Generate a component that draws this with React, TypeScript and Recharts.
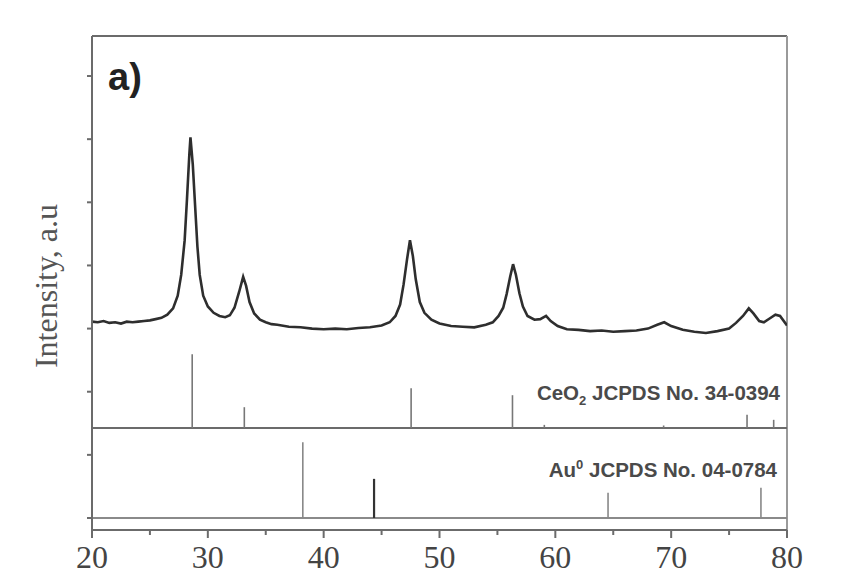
import React from 'react';
import { ComposedChart, Line, XAxis, YAxis, ReferenceLine } from 'recharts';

// XRD pattern (2θ in degrees, intensity in a.u. tick units)
const xrdAngle = [
  20.0, 20.5, 21.0, 21.5, 22.0, 22.5, 23.0, 23.5, 24.0, 24.5, 25.0, 25.5, 26.0, 26.5, 27.0, 27.4, 27.7, 28.0, 28.2, 28.4,
  28.5, 28.7, 28.9, 29.1, 29.3, 29.6, 30.0, 30.5, 31.0, 31.5, 31.9, 32.3, 32.7, 33.05, 33.3, 33.6, 34.0, 34.5, 35.0, 35.5,
  36.0, 37.0, 38.0, 39.0, 40.0, 41.0, 42.0, 43.0, 44.0, 45.0, 45.7, 46.2, 46.6, 46.9, 47.2, 47.45, 47.7, 47.95, 48.3, 48.7,
  49.3, 50.0, 51.0, 52.0, 53.0, 54.0, 54.6, 55.1, 55.5, 55.8, 56.1, 56.35, 56.6, 56.9, 57.2, 57.6, 58.2, 58.7, 59.2, 59.6,
  60.2, 61.0, 62.0, 63.0, 64.0, 65.0, 66.0, 67.0, 68.0, 68.8, 69.4, 70.0, 71.0, 72.0, 73.0, 74.0, 75.0, 75.6, 76.2, 76.7,
  77.1, 77.6, 78.0, 78.5, 79.0, 79.4, 80.0,
];
const xrdIntensity = [
  3.11, 3.10, 3.12, 3.09, 3.10, 3.08, 3.11, 3.10, 3.11, 3.12, 3.13, 3.15, 3.17, 3.22, 3.32, 3.52, 3.85, 4.40, 5.05, 5.75,
  6.03, 5.60, 4.95, 4.30, 3.85, 3.52, 3.35, 3.25, 3.20, 3.18, 3.21, 3.33, 3.58, 3.82, 3.68, 3.42, 3.24, 3.14, 3.10, 3.07,
  3.06, 3.03, 3.02, 3.00, 2.99, 3.00, 2.99, 3.01, 3.02, 3.05, 3.10, 3.20, 3.38, 3.70, 4.10, 4.40, 4.15, 3.78, 3.42, 3.25,
  3.14, 3.08, 3.04, 3.03, 3.02, 3.06, 3.10, 3.20, 3.33, 3.55, 3.82, 4.02, 3.85, 3.56, 3.35, 3.20, 3.14, 3.15, 3.20, 3.12,
  3.04, 2.99, 2.98, 2.96, 2.97, 2.95, 2.96, 2.97, 3.00, 3.06, 3.10, 3.04, 2.98, 2.95, 2.93, 2.96, 3.00, 3.09, 3.20, 3.32,
  3.24, 3.12, 3.10, 3.16, 3.22, 3.20, 3.05,
];

// CeO2 reference pattern (JCPDS No. 34-0394)
const ceo2Angle = [28.65, 33.15, 47.55, 56.3, 59.05, 69.35, 76.55, 78.85];
const ceo2Height = [1.17, 0.33, 0.63, 0.52, 0.05, 0.04, 0.21, 0.13];
const ceo2Base = 1.425;

// Au0 reference pattern (JCPDS No. 04-0784)
const auAngle = [38.2, 44.35, 64.55, 77.75];
const auHeight = [1.2, 0.62, 0.4, 0.48];
const auBase = 0;

const xTicks = [20, 25, 30, 35, 40, 45, 50, 55, 60, 65, 70, 75, 80];
const yTicks = [0, 1, 2, 3, 4, 5, 6, 7];
const yDomain: [number, number] = [-0.19, 7.634];

const xrdData = xrdAngle.map((x, i) => ({ x, y: xrdIntensity[i] }));
const stick = (x: number, base: number, h: number) => [
  { x, y: base },
  { x, y: base + h },
];

const AXIS = '#6b6b6b';

const XTick = (props: any) => {
  const { x, y, payload } = props;
  const v = payload.value as number;
  const major = v % 10 === 0;
  return (
    <g>
      <line x1={x} x2={x} y1={y} y2={y + (major ? 8 : 5)} stroke={AXIS} strokeWidth={2} />
      {major && (
        <text
          x={x}
          y={y + 38}
          textAnchor="middle"
          fontSize={32}
          fontFamily="'Liberation Serif', 'Times New Roman', serif"
          fill="#444"
        >
          {v}
        </text>
      )}
    </g>
  );
};

const YTick = (props: any) => {
  const { x, y } = props;
  return <line x1={x - 5} x2={x} y1={y} y2={y} stroke={AXIS} strokeWidth={2} />;
};

export default function App() {
  return (
    <div style={{ position: 'absolute', left: 0, top: 0, width: 842, height: 576, background: '#fff', overflow: 'hidden' }}>
      <ComposedChart width={842} height={576} margin={{ top: 36, right: 55, bottom: 0, left: 0 }}>
        <XAxis
          type="number"
          dataKey="x"
          domain={[20, 80]}
          allowDataOverflow
          ticks={xTicks}
          interval={0}
          height={46}
          tickLine={false}
          tickSize={0}
          tickMargin={0}
          tick={<XTick />}
          axisLine={{ stroke: AXIS, strokeWidth: 2 }}
        />
        <YAxis
          type="number"
          domain={yDomain}
          allowDataOverflow
          ticks={yTicks}
          interval={0}
          width={92}
          tickLine={false}
          tickSize={0}
          tickMargin={0}
          tick={<YTick />}
          axisLine={{ stroke: AXIS, strokeWidth: 2 }}
        />
        <ReferenceLine y={yDomain[1]} stroke={AXIS} strokeWidth={2} />
        <ReferenceLine x={80} stroke="#9a9a9a" strokeWidth={2} />
        <ReferenceLine y={ceo2Base} stroke={AXIS} strokeWidth={2} />
        <ReferenceLine y={auBase} stroke="#8a8a8a" strokeWidth={2} />
        {ceo2Angle.map((a, i) => (
          <Line
            key={'ce' + i}
            data={stick(a, ceo2Base, ceo2Height[i])}
            dataKey="y"
            stroke="#777"
            strokeWidth={1.6}
            dot={false}
            isAnimationActive={false}
          />
        ))}
        {auAngle.map((a, i) => (
          <Line
            key={'au' + i}
            data={stick(a, auBase, auHeight[i])}
            dataKey="y"
            stroke={i === 1 ? '#333' : '#888'}
            strokeWidth={i === 1 ? 2.2 : 1.6}
            dot={false}
            isAnimationActive={false}
          />
        ))}
        <Line
          data={xrdData}
          dataKey="y"
          type="linear"
          stroke="#2e2e2e"
          strokeWidth={2.6}
          dot={false}
          isAnimationActive={false}
        />
      </ComposedChart>
      <svg
        width={842}
        height={576}
        style={{ position: 'absolute', left: 0, top: 0, pointerEvents: 'none' }}
      >
        <text x={108} y={90} fontSize={38} fontWeight="bold" fontFamily="'Liberation Sans', Arial, sans-serif" fill="#222">
          a)
        </text>
        <text
          x={57}
          y={286}
          transform="rotate(-90 57 286)"
          textAnchor="middle"
          fontSize={32}
          fontFamily="'Liberation Serif', 'Times New Roman', serif"
          fill="#555"
        >
          Intensity, a.u
        </text>
        <text
          x={780}
          y={400}
          textAnchor="end"
          fontSize={20.5}
          fontWeight="bold"
          fontFamily="'Liberation Sans', Arial, sans-serif"
          fill="#4a4a4a"
        >
          CeO
          <tspan fontSize={13} dy={5}>2</tspan>
          <tspan dy={-5}> JCPDS No. 34-0394</tspan>
        </text>
        <text
          x={777}
          y={477}
          textAnchor="end"
          fontSize={20.5}
          fontWeight="bold"
          fontFamily="'Liberation Sans', Arial, sans-serif"
          fill="#4a4a4a"
        >
          Au
          <tspan fontSize={13} dy={-8}>0</tspan>
          <tspan dy={8}> JCPDS No. 04-0784</tspan>
        </text>
      </svg>
    </div>
  );
}
